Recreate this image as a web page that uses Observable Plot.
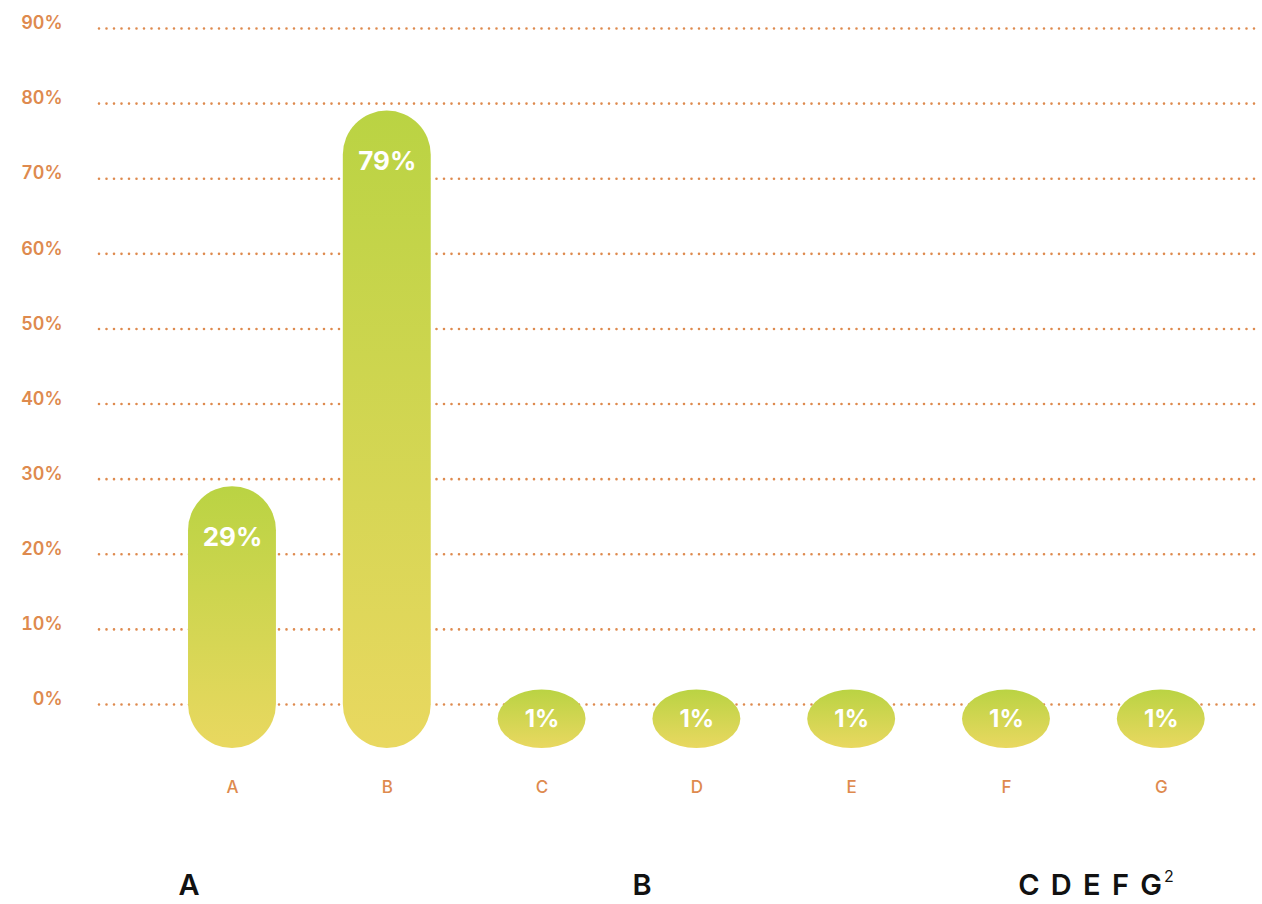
<!DOCTYPE html>
<html>
<head>
<meta charset="utf-8">
<script src="https://cdn.jsdelivr.net/npm/d3@7"></script>
<script src="https://cdn.jsdelivr.net/npm/@observablehq/plot@0.6"></script>
<style>
  body { margin: 0; background: #fff; font-family: Inter, "Open Sans", sans-serif; }
  #wrap { position: relative; width: 1262px; }
  #groups { position: relative; height: 54px; }
  #groups span {
    position: absolute; top: 18px; transform: translateX(-50%);
    font-size: 29px; font-weight: 600; color: #111; line-height: 34px; white-space: nowrap;
    letter-spacing: 2px;
  }
  #groups sup { font-size: 16px; font-weight: 400; vertical-align: 0; position: relative; top: -13px; letter-spacing: 0; }
</style>
</head>
<body>
<div id="wrap">
  <div id="chart"></div>
  <div id="groups"></div>
</div>
<script>
// Share of respondents per option
const categories = ["A", "B", "C", "D", "E", "F", "G"];
const values = [29, 79, 1, 1, 1, 1, 1];
const yTicks = [0, 10, 20, 30, 40, 50, 60, 70, 80, 90];
// Group captions under the axis, with their horizontal centres
const groupLabels = ["A", "B", "C D E F G"];
const groupCenters = [190, 643, 1096];

const data = categories.map((c, i) => ({category: c, value: values[i]}));
const tall = data.filter(d => d.value >= 5);
const small = data.filter(d => d.value < 5);

const orange = "#de8a4e";

const chart = Plot.plot({
  width: 1262,
  height: 850,
  marginLeft: 99,
  marginRight: 2,
  marginTop: 28,
  marginBottom: 146,
  style: {fontFamily: "Inter, 'Open Sans', sans-serif", background: "#fff"},
  x: {
    domain: categories,
    paddingInner: 0.432,
    paddingOuter: 0.466,
    align: 0.617,
    round: false,
    label: null
  },
  y: {domain: [0, 90], label: null},
  marks: [
    Plot.ruleY(yTicks, {
      stroke: orange, strokeWidth: 2.6, strokeDasharray: "0 7.5", strokeLinecap: "round"
    }),
    Plot.axisY({
      ticks: yTicks, tickSize: 0, tickPadding: 37, dy: -5,
      tickFormat: d => d + "%", fontSize: 18, fontWeight: 600, fill: orange, label: null
    }),
    Plot.axisX({
      tickSize: 0, tickPadding: 76, fontSize: 17, fontWeight: 500, fill: orange, label: null
    }),
    // tall bars: capsules reaching below the baseline
    Plot.barY(tall, {
      x: "category", y: "value", fill: "url(#barGradient)",
      rx: 44, insetBottom: -44
    }),
    // tiny shares: drawn as ovals sitting on the baseline
    Plot.barY(small, {
      x: "category", y: "value", fill: "url(#barGradient)",
      rx: 44, insetBottom: -44, insetTop: -7
    }),
    Plot.text(tall, {
      x: "category", y: "value", text: d => d.value + "%",
      dy: 51, fill: "#fff", fontSize: 26, fontWeight: 700
    }),
    Plot.text(small, {
      x: "category", y: "value", text: d => d.value + "%",
      dy: 22, fill: "#fff", fontSize: 24, fontWeight: 700
    })
  ]
});

// Vertical green-to-yellow gradient used by every bar
const defs = d3.select(chart).insert("defs", ":first-child");
const grad = defs.append("linearGradient")
  .attr("id", "barGradient")
  .attr("x1", 0).attr("y1", 0).attr("x2", 0).attr("y2", 1);
grad.append("stop").attr("offset", "0%").attr("stop-color", "#bad343");
grad.append("stop").attr("offset", "100%").attr("stop-color", "#e9d860");

document.getElementById("chart").appendChild(chart);

const groups = d3.select("#groups");
groupLabels.forEach((g, i) => {
  const s = groups.append("span").style("left", groupCenters[i] + "px").text(g);
  if (i === groupLabels.length - 1) s.append("sup").text("2");
});
</script>
</body>
</html>
